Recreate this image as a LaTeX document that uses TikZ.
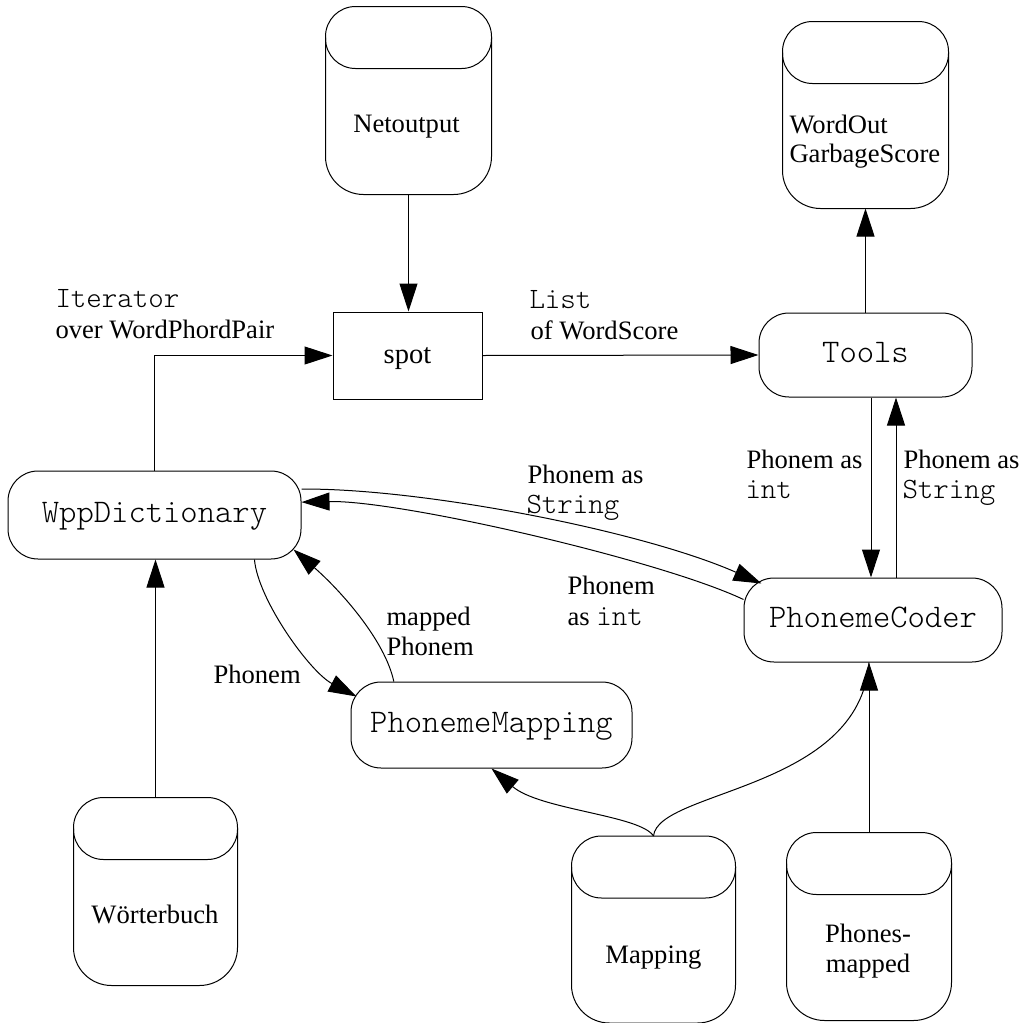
\documentclass[tikz,border=0pt]{standalone}
\usepackage{fontspec}
\setmainfont{Liberation Serif}
\setmonofont{Latin Modern Mono Light}
\usetikzlibrary{arrows.meta,calc}

\newcommand\txtserif{\fontsize{26.6pt}{30pt}\selectfont\rmfamily}
\newcommand\txtmono{\fontsize{33pt}{36pt}\selectfont\ttfamily}
\newcommand\txtmonosm{\fontsize{29.5pt}{32pt}\selectfont\ttfamily}

% data store: an invisible box carrying the name, a cap and a body
\newcommand\datadrum[4]{%
  \node[drumbox, minimum width=#3, minimum height=#4] (#1) at (#2) {};
  \draw[rounded corners=30pt] (#1.north west) rectangle ([yshift=-62pt]#1.north east);
  \draw[rounded corners=38pt] ([yshift=-31pt]#1.north west) -- (#1.south west)
        -- (#1.south east) -- ([yshift=-31pt]#1.north east);
}

\begin{document}
\begin{tikzpicture}[x=1pt,y=-1pt,
  line width=1pt,
  flow/.style={-{Triangle[length=28pt,width=18pt]}},
  proc/.style={draw, rounded corners=30pt, inner sep=0pt, font=\txtmono,
               text height=20pt, text depth=6pt},
  plainbox/.style={draw, inner sep=0pt, font=\fontsize{28.5pt}{32pt}\selectfont,
               text height=18pt, text depth=2pt},
  drumbox/.style={inner sep=0pt},
  lbl/.style={inner sep=0pt, anchor=base west, font=\txtserif},
  mlbl/.style={inner sep=0pt, anchor=base west, font=\txtmonosm},
]
\useasboundingbox (0,0) rectangle (1026,1023);

% processes
\node[plainbox, minimum width=149pt, minimum height=87pt] (spot) at (407.5,355.5) {spot};
\node[proc, minimum width=213pt, minimum height=84pt] (tools) at (865.5,355) {Tools};
\node[proc, minimum width=293pt, minimum height=88pt] (wpp) at (154.5,515) {WppDictionary};
\node[proc, minimum width=258pt, minimum height=84pt] (coder) at (873,620) {PhonemeCoder};
\node[proc, minimum width=281pt, minimum height=86pt] (pmap) at (491.5,725) {PhonemeMapping};

% data stores
\datadrum{net}{408.5,100.5}{165pt}{187pt}
\datadrum{wordout}{865.5,115}{165pt}{186pt}
\datadrum{woerter}{155.5,891.5}{163pt}{187pt}
\datadrum{mapping}{653.5,929.5}{163pt}{186pt}
\datadrum{phones}{869,926.5}{164pt}{187pt}

\node[lbl, anchor=base] (netlbl) at (406.5,132) {Netoutput};
\node[lbl] (wolbla) at (789,133) {WordOut};
\node[lbl] (wolblb) at (789,162) {GarbageScore};
\node[lbl, anchor=base] (wblbl) at (155,923) {Wörterbuch};
\node[lbl, anchor=base] (maplbl) at (653.5,963) {Mapping};
\node[lbl, anchor=base] (phlbla) at (868,942) {Phones-};
\node[lbl, anchor=base] (phlblb) at (868,972) {mapped};

% arrow end points on rounded corners
\coordinate (pmapin) at ($(pmap.north west)+(6pt,-15pt)$);
\coordinate (wppin) at ($(wpp.south east)+(-8pt,10pt)$);
\coordinate (coderin) at ($(coder.north west)+(18pt,-6pt)$);
\coordinate (downx) at (871,0);
\coordinate (upx) at (896,0);

% straight flows
\draw[flow] (net.south) -- (net.south |- spot.north);
\draw[flow] (wpp.north) |- (spot.west);
\draw[flow] (spot.east) -- (tools.west);
\draw[flow] (tools.north) -- (wordout.south);
\draw[flow] (tools.south -| downx) -- (coder.north -| downx);
\draw[flow] (coder.north -| upx) -- (tools.south -| upx);
\draw[flow] (woerter.north) -- (woerter.north |- wpp.south);
\draw[flow] (phones.north) -- (coder.south -| phones.north);

% curved flows
\draw (mapping.north) .. controls (658,790) and (860,790) .. (coder.south -| phones.north);
\draw[flow] (mapping.north) .. controls (640,815) and (540,810) .. (pmap.south);
\draw[flow] (wpp.-24.3) .. controls (258,600) and (310,672) .. (pmapin);
\draw[flow] (pmap.156.4) .. controls (385,640) and (340,590) .. (wppin);
\draw[flow] (wpp.10) .. controls (420,488) and (640,530) .. (coderin);
\draw[flow] (coder.171) .. controls (660,560) and (400,500) .. (wpp.5);

% flow labels
\node[mlbl] (itlbl) at (55,307) {Iterator};
\node[lbl] (overlbl) at (55,338) {over WordPhordPair};
\node[mlbl] (listlbl) at (529,308) {List};
\node[lbl] (oflbl) at (530,339) {of WordScore};
\node[lbl] (paslbla) at (527,483) {Phonem as};
\node[mlbl] (strlbla) at (526,513) {String};
\node[lbl] (paslblb) at (567,594) {Phonem};
\node[lbl] (intlblb) at (567,625) {as {\txtmonosm int}};
\node[lbl] (mappedlbl) at (386,625) {mapped};
\node[lbl] (mphlbl) at (386,655) {Phonem};
\node[lbl] (phlbl) at (213,683) {Phonem};
\node[lbl] (paslblc) at (746,468) {Phonem as};
\node[mlbl] (intlblc) at (745,498) {int};
\node[lbl] (paslbld) at (903,468) {Phonem as};
\node[mlbl] (strlbld) at (902,498) {String};
\end{tikzpicture}
\end{document}
